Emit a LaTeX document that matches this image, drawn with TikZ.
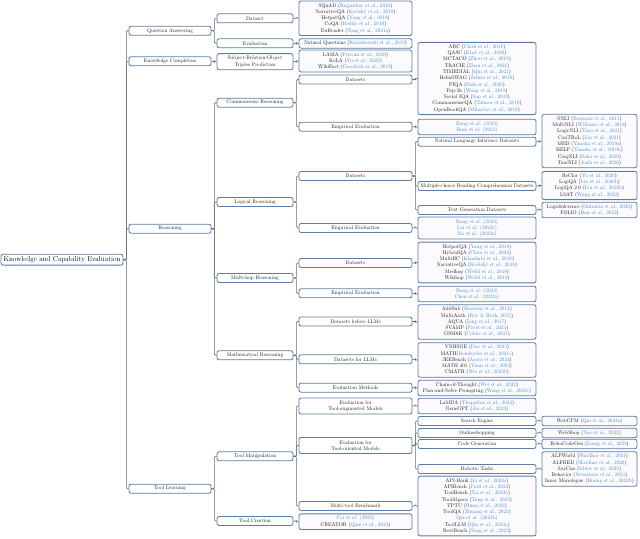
\documentclass[tikz,border=0pt]{standalone}
\usepackage{fontspec}
\definecolor{bordercol}{RGB}{92,124,164}
\definecolor{edgecol}{RGB}{105,105,105}
\definecolor{leafcol}{RGB}{252,250,252}
\definecolor{citeblue}{RGB}{55,135,215}
\newcommand{\cblue}[1]{\textcolor{citeblue}{#1}}
\newcommand{\conn}[2]{\draw[edgeline] (#1.east) -- ++(3,0) |- (#2.west);}
\tikzset{
  box/.style={draw=bordercol, line width=1.6pt, rounded corners=4pt, fill=white,
    align=center, inner xsep=2pt, inner ysep=4pt,
    font=\fontsize{10}{12.1}\selectfont, text=black!90},
  lvl/.style={box, minimum height=17.3pt},
  two/.style={box, minimum height=31pt},
  leaf/.style={box, fill=leafcol},
  wa/.style={minimum width=234.6pt},
  wb/.style={minimum width=157.7pt},
  wc/.style={minimum width=146.2pt},
  wd/.style={minimum width=217.3pt},
  we/.style={minimum width=226.9pt},
  wf/.style={minimum width=182.7pt},
  edgeline/.style={draw=edgecol, line width=1.2pt, rounded corners=2pt}
}
\begin{document}
\begin{tikzpicture}[x=1.923pt,y=-1.923pt]
\useasboundingbox (0,0) rectangle (640,538);
% root
\node[box, wa, minimum height=21pt, font=\fontsize{13.8}{16}\selectfont, text=black] (root) at (62,259.7) {Knowledge and Capability Evaluation};
% level 1
\node[lvl, wb] (qa) at (170,30.7) {Question Answering};
\node[lvl, wb] (kc) at (170,61.3) {Knowledge Completion};
\node[lvl, wb] (rs) at (170,228.7) {Reasoning};
\node[lvl, wb] (tl) at (170,488.7) {Tool Learning};
% level 2
\node[lvl, wc] (qads) at (255,18.3) {Dataset};
\node[lvl, wc] (qaev) at (255,43.3) {Evaluation};
\node[two, wc] (srot) at (255,61.7) {Subject-Relation-Object\\Triples Prediction};
\node[lvl, wc] (csr) at (255,102.7) {Commonsense Reasoning};
\node[lvl, wc] (lgr) at (255,202) {Logical Reasoning};
\node[lvl, wc] (mhr) at (255,278) {Multi-hop Reasoning};
\node[lvl, wc] (mtr) at (255,355.3) {Mathematical Reasoning};
\node[lvl, wc] (tm) at (255,456.3) {Tool Manipulation};
\node[lvl, wc] (tc) at (255,521) {Tool Creation};
% level 3
\node[leaf, wd] (qadsl) at (355.5,18.3) {SQuAD (\cblue{Rajpurkar et al., 2016})\\NarrativeQA (\cblue{Kočiský et al., 2018})\\HotpotQA (\cblue{Yang et al., 2018})\\CoQA (\cblue{Reddy et al., 2019})\\DuReader (\cblue{Tang et al., 2021a})};
\node[leaf, wd] (qaevl) at (355.5,43.5) {Natural Questions (\cblue{Kwiatkowski et al., 2019})};
\node[leaf, wd] (srotl) at (355.5,61) {LAMA (\cblue{Petroni et al., 2019})\\KoLA (\cblue{Yu et al., 2023})\\WikiFact (\cblue{Goodrich et al., 2019})};
\node[lvl, wd] (csds) at (355.5,79.5) {Datasets};
\node[lvl, wd] (csee) at (355.5,126.7) {Empirical Evaluation};
\node[lvl, wd] (lgds) at (355.5,176) {Datasets};
\node[lvl, wd] (lgee) at (355.5,228) {Empirical Evaluation};
\node[lvl, wd] (mhds) at (355.5,263) {Datasets};
\node[lvl, wd] (mhee) at (355.5,293.3) {Empirical Evaluation};
\node[lvl, wd] (mtbl) at (355.5,321.5) {Datasets before LLMs};
\node[lvl, wd] (mtfl) at (355.5,359.3) {Datasets for LLMs};
\node[lvl, wd] (mtem) at (355.5,387.7) {Evaluation Methods};
\node[two, wd] (tmta) at (355.5,406) {Evaluation for\\Tool-augmented Models};
\node[two, wd] (tmto) at (355.5,445.5) {Evaluation for\\Tool-oriented Models};
\node[lvl, wd] (tmmb) at (355.5,506) {Multi-tool Benchmark};
\node[leaf, wd] (tcl) at (355.5,521.7) {\cblue{Cai et al. (2023)}\\CREATOR (\cblue{Qian et al., 2023})};
% level 4
\node[leaf, we] (csdsl) at (477,78.5) {ARC (\cblue{Clark et al., 2018})\\QASC (\cblue{Khot et al., 2020})\\MCTACO (\cblue{Zhou et al., 2019})\\TRACIE (\cblue{Zhou et al., 2021})\\TIMEDIAL (\cblue{Qin et al., 2021})\\HellaSWAG (\cblue{Zellers et al., 2019})\\PIQA (\cblue{Bisk et al., 2020})\\Pep-3k (\cblue{Wang et al., 2018})\\Social IQA (\cblue{Sap et al., 2019})\\CommonsenseQA (\cblue{Talmor et al., 2019})\\OpenBookQA (\cblue{Mihaylov et al., 2018})};
\node[leaf, we] (cseel) at (477,127) {\cblue{Bang et al. (2023)}\\\cblue{Bian et al. (2023)}};
\node[lvl, we] (nli) at (477,141.7) {Natural Language Inference Datasets};
\node[lvl, we] (mcrc) at (477,186) {Multiple-choice Reading Comprehension Datasets};
\node[lvl, we] (tgd) at (477,210) {Text Generation Datasets};
\node[leaf, we] (lgeel) at (477,228) {\cblue{Bang et al. (2023)}\\\cblue{Liu et al. (2023c)}\\\cblue{Xu et al. (2023a)}};
\node[leaf, we] (mhdsl) at (477,262.5) {HotpotQA (\cblue{Yang et al., 2018})\\HybridQA (\cblue{Chen et al., 2020})\\MultiRC (\cblue{Khashabi et al., 2018})\\NarrativeQA (\cblue{Kočiský et al., 2018})\\Medhop (\cblue{Welbl et al., 2018})\\Wikihop (\cblue{Welbl et al., 2018})};
\node[leaf, we] (mheel) at (477,294) {\cblue{Bang et al. (2023)}\\\cblue{Chen et al. (2023a)}};
\node[leaf, we] (mtbll) at (477,322) {AddSub (\cblue{Hosseini et al., 2014})\\MultiArith (\cblue{Roy \& Roth, 2015})\\AQUA (\cblue{Ling et al., 2017})\\SVAMP (\cblue{Patel et al., 2021})\\GSM8K (\cblue{Cobbe et al., 2021})};
\node[leaf, we] (mtfll) at (477,360) {VNHSGE (\cblue{Dao et al., 2023})\\MATH(\cblue{Hendrycks et al., 2021c})\\JEEBench (\cblue{Arora et al., 2023})\\MATH 401 (\cblue{Yuan et al., 2023})\\CMATH (\cblue{Wei et al., 2023b})};
\node[leaf, we] (mteml) at (477,388) {Chain-of-Thought (\cblue{Wei et al., 2022})\\Plan-and-Solve Prompting (\cblue{Wang et al., 2023c})};
\node[leaf, we] (tmtal) at (477,406) {LaMDA (\cblue{Thoppilan et al., 2022})\\GeneGPT (\cblue{Jin et al., 2023})};
\node[lvl, we] (se) at (477,421) {Search Engine};
\node[lvl, we] (os) at (477,433) {Onlineshopping};
\node[lvl, we] (cg) at (477,444) {Code Generation};
\node[lvl, we] (rt) at (477,469) {Robotic Tasks};
\node[leaf, we] (tmmbl) at (477,506) {API-Bank (\cblue{Li et al., 2023c})\\APIBench (\cblue{Patil et al., 2023})\\ToolBench (\cblue{Xu et al., 2023b})\\ToolAlpaca (\cblue{Tang et al., 2023})\\TPTU (\cblue{Ruan et al., 2023})\\ToolQA (\cblue{Zhuang et al., 2023})\\\cblue{Qin et al. (2023b)}\\ToolLLM (\cblue{Qin et al., 2023c})\\RestBench (\cblue{Song et al., 2023})};
% level 5
\node[leaf, wf] (nlil) at (589.5,141) {SNLI (\cblue{Bowman et al., 2015})\\MultiNLI (\cblue{Williams et al., 2018})\\LogicNLI (\cblue{Tian et al., 2021})\\ConTRoL (\cblue{Liu et al., 2021})\\MED (\cblue{Yanaka et al., 2019a})\\HELP (\cblue{Yanaka et al., 2019b})\\ConjNLI (\cblue{Saha et al., 2020})\\TaxiNLI (\cblue{Joshi et al., 2020})};
\node[leaf, wf] (mcrcl) at (589.5,185.5) {ReClor (\cblue{Yu et al., 2020})\\LogiQA (\cblue{Liu et al., 2020b})\\LogiQA 2.0 (\cblue{Liu et al., 2023b})\\LSAT (\cblue{Wang et al., 2022})};
\node[leaf, wf] (tgdl) at (589.5,210) {LogicInference (\cblue{Ontañón et al., 2022})\\FOLIO (\cblue{Han et al., 2022})};
\node[leaf, wf] (sel) at (589.5,421) {WebCPM (\cblue{Qin et al., 2023a})};
\node[leaf, wf] (osl) at (589.5,433) {WebShop (\cblue{Yao et al., 2022})};
\node[leaf, wf] (cgl) at (589.5,444) {RoboCodeGen (\cblue{Liang et al., 2023})};
\node[leaf, wf] (rtl) at (589.5,469) {ALFWorld (\cblue{Shridhar et al., 2021})\\ALFRED (\cblue{Shridhar et al., 2020})\\SayCan (\cblue{Ichter et al., 2022})\\Behavior (\cblue{Srivastava et al., 2021})\\Inner Monologue (\cblue{Huang et al., 2022b})};
% connectors
\conn{root}{qa}\conn{root}{kc}\conn{root}{rs}\conn{root}{tl}
\conn{qa}{qads}\conn{qa}{qaev}\conn{kc}{srot}
\conn{rs}{csr}\conn{rs}{lgr}\conn{rs}{mhr}\conn{rs}{mtr}
\conn{tl}{tm}\conn{tl}{tc}
\conn{qads}{qadsl}\conn{qaev}{qaevl}\conn{srot}{srotl}
\conn{csr}{csds}\conn{csr}{csee}
\conn{lgr}{lgds}\conn{lgr}{lgee}
\conn{mhr}{mhds}\conn{mhr}{mhee}
\conn{mtr}{mtbl}\conn{mtr}{mtfl}\conn{mtr}{mtem}
\conn{tm}{tmta}\conn{tm}{tmto}\conn{tm}{tmmb}
\conn{tc}{tcl}
\conn{csds}{csdsl}\conn{csee}{cseel}
\conn{lgds}{nli}\conn{lgds}{mcrc}\conn{lgds}{tgd}
\conn{lgee}{lgeel}
\conn{mhds}{mhdsl}\conn{mhee}{mheel}
\conn{mtbl}{mtbll}\conn{mtfl}{mtfll}\conn{mtem}{mteml}
\conn{tmta}{tmtal}
\conn{tmto}{se}\conn{tmto}{os}\conn{tmto}{cg}\conn{tmto}{rt}
\conn{tmmb}{tmmbl}
\conn{nli}{nlil}\conn{mcrc}{mcrcl}\conn{tgd}{tgdl}
\conn{se}{sel}\conn{os}{osl}\conn{cg}{cgl}\conn{rt}{rtl}
\end{tikzpicture}
\end{document}
